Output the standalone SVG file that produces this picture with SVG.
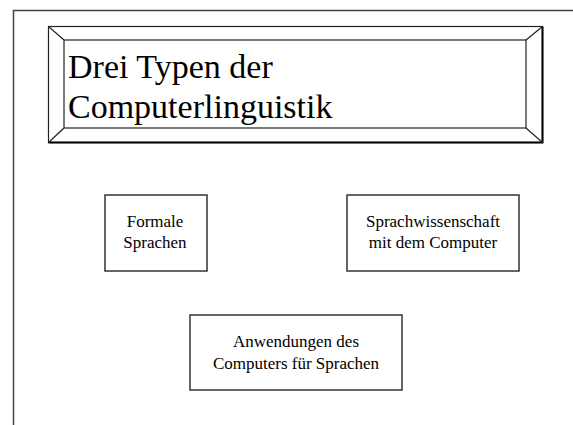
<svg xmlns="http://www.w3.org/2000/svg" width="573" height="425" viewBox="0 0 573 425">
<style>
.frame{fill:none;stroke:#444;stroke-width:1.5}
.box{fill:#fff;stroke:#333;stroke-width:1.5}
.bev{fill:none;stroke:#222;stroke-width:1.2}
.t{font-family:"Liberation Serif","Times New Roman",serif;fill:#000}
.big{font-size:34px}
.small{font-size:17px;text-anchor:middle}
</style>
<rect width="573" height="425" fill="#fff"/>
<g id="frame">
<polyline class="frame" points="13.5,425 13.5,10.5 573,10.5"/>
</g>
<g id="title">
<rect x="48.5" y="26.5" width="494" height="116" fill="#fff" stroke="#222" stroke-width="1.2"/>
<polyline points="48.5,142.5 542.5,142.5 542.5,26.5" fill="none" stroke="#000" stroke-width="2"/>
<rect class="bev" x="64" y="40" width="462" height="88"/>
<line class="bev" x1="48.5" y1="26.5" x2="64" y2="40"/>
<line class="bev" x1="542.5" y1="26.5" x2="526" y2="40"/>
<line class="bev" x1="48.5" y1="142.5" x2="64" y2="128"/>
<line class="bev" x1="542.5" y1="142.5" x2="526" y2="128"/>
<text class="t big" x="68" y="78">Drei Typen der</text>
<text class="t big" x="68" y="118">Computerlinguistik</text>
</g>
<g id="formale">
<rect class="box" x="105" y="195" width="102" height="76"/>
<text class="t small" x="155" y="227">Formale</text>
<text class="t small" x="155" y="248">Sprachen</text>
</g>
<g id="sprachwissenschaft">
<rect class="box" x="347" y="195" width="172" height="76"/>
<text class="t small" x="433" y="227">Sprachwissenschaft</text>
<text class="t small" x="433" y="248">mit dem Computer</text>
</g>
<g id="anwendungen">
<rect class="box" x="190" y="315" width="212" height="75"/>
<text class="t small" x="296" y="347">Anwendungen des</text>
<text class="t small" x="296" y="369">Computers für Sprachen</text>
</g>
</svg>
